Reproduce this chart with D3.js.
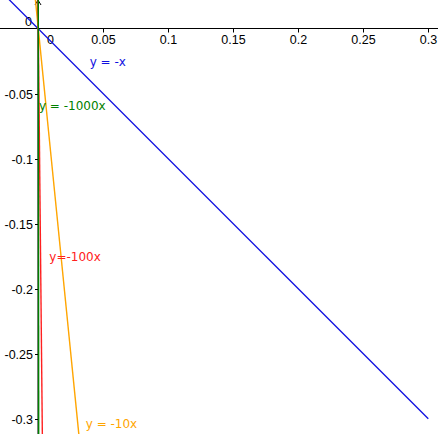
<!DOCTYPE html>
<html><head><meta charset="utf-8">
<script src="https://cdn.jsdelivr.net/npm/d3@7"></script>
<style>body{margin:0;background:#fff}svg{display:block}</style>
</head><body>
<script>
const slopes = [-1, -10, -100, -1000];
const seriesLabels = ["y = -x", "y = -10x", "y=-100x", "y = -1000x"];
const seriesColors = ["#1010e0", "#ffa500", "#ff2020", "#008000"];
const labelPos = [[0.0395, -0.0288], [0.0365, -0.307], [0.0085, -0.1785], [0.0005, -0.0625]];
const xTicks = [0.05, 0.1, 0.15, 0.2, 0.25, 0.3];
const xTickLabels = ["0.05", "0.1", "0.15", "0.2", "0.25", "0.3"];
const yTicks = [-0.05, -0.1, -0.15, -0.2, -0.25, -0.3];
const yTickLabels = ["-0.05", "-0.1", "-0.15", "-0.2", "-0.25", "-0.3"];
const xExtent = [-0.0295, 0.3];

const W = 438, H = 434;
const x = d3.scaleLinear().domain([-0.02946, 0.30746]).range([0, W]);
const y = d3.scaleLinear().domain([0.02215, -0.31169]).range([0, H]);

const svg = d3.select("body").append("svg").attr("width", W).attr("height", H);
svg.append("defs").append("clipPath").attr("id", "c").append("rect").attr("width", W).attr("height", H);

const tickFont = "'Liberation Sans', Arial, sans-serif";
const x0 = Math.round(x(0)) - 0.5 + 0.5, y0 = Math.round(y(0)) - 0.5;

// axes
const ax = svg.append("g").attr("stroke", "#000").attr("stroke-width", 1);
ax.append("line").attr("x1", 0).attr("x2", W).attr("y1", y0).attr("y2", y0);
ax.append("line").attr("x1", x0).attr("x2", x0).attr("y1", 0).attr("y2", H);
// arrow
ax.append("path").attr("fill", "none").attr("d", `M${x0-3},${5}L${x0},0L${x0+3},${5}`);

// x ticks
xTicks.forEach((t, i) => {
  const px = Math.round(x(t)) + 0.5;
  ax.append("line").attr("x1", px).attr("x2", px).attr("y1", y0).attr("y2", y0 + 4);
  svg.append("text").attr("x", px).attr("y", y0 + 15.5).attr("text-anchor", "middle")
    .attr("font-family", tickFont).attr("font-size", 12.5).attr("fill", "#000").text(xTickLabels[i]);
});
// y ticks
yTicks.forEach((t, i) => {
  const py = Math.round(y(t)) + 0.5;
  ax.append("line").attr("x1", x0 - 3).attr("x2", x0).attr("y1", py).attr("y2", py);
  svg.append("text").attr("x", x0 - 5).attr("y", py + 4.5).attr("text-anchor", "end")
    .attr("font-family", tickFont).attr("font-size", 12.5).attr("fill", "#000").text(yTickLabels[i]);
});
// origin labels
svg.append("text").attr("x", x0 - 13).attr("y", y0 - 3).attr("font-family", tickFont).attr("font-size", 12.5).text("0");
svg.append("text").attr("x", x0 + 9).attr("y", y0 + 15.5).attr("font-family", tickFont).attr("font-size", 12.5).text("0");

// lines
const line = d3.line().x(d => x(d[0])).y(d => y(d[1]));
const g = svg.append("g").attr("clip-path", "url(#c)");
slopes.forEach((m, i) => {
  g.append("path").attr("d", line(xExtent.map(v => [v, m * v])))
    .attr("fill", "none").attr("stroke", seriesColors[i]).attr("stroke-width", i === 0 ? 1.3 : 1.4);
});
// labels
slopes.forEach((m, i) => {
  svg.append("text").attr("x", x(labelPos[i][0])).attr("y", y(labelPos[i][1]))
    .attr("font-family", "'DejaVu Sans', sans-serif").attr("font-size", 12)
    .attr("fill", seriesColors[i]).text(seriesLabels[i]);
});
</script>
</body></html>
